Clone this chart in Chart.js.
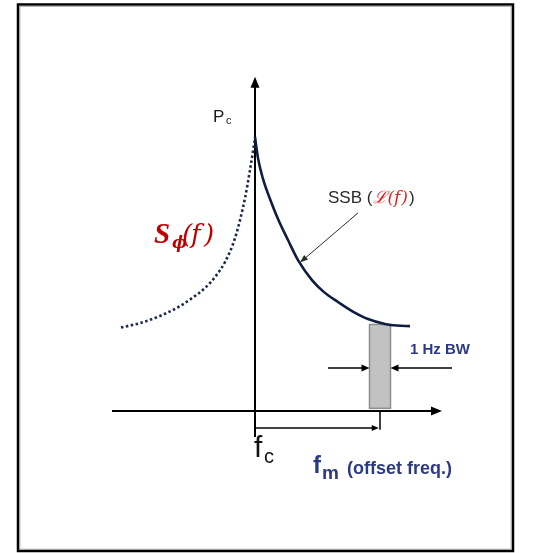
<!DOCTYPE html>
<html>
<head>
<meta charset="utf-8">
<script src="https://cdn.jsdelivr.net/npm/chart.js@4"></script>
<style>
  html, body { margin: 0; padding: 0; background: #fff; }
</style>
</head>
<body>
<canvas id="noiseChart" width="533" height="553"></canvas>
<script>
// Offset from the carrier (carrier at 0) and relative power, arbitrary units
const ssbOffset = [0, 0.24, 0.64, 1.2, 1.84, 2.64, 3.44, 4.56, 5.52, 6.64, 7.76, 9.04, 10.4, 11.36, 12.4];
const ssbPower  = [10.0, 9.23, 8.47, 7.74, 7.01, 6.24, 5.51, 4.78, 4.34, 3.98, 3.65, 3.36, 3.18, 3.12, 3.10];
const phiOffset = [-10.72, -9.2, -7.6, -6.0, -4.8, -4.0, -3.2, -2.4, -1.6, -0.8, -0.4, 0];
const phiPower  = [3.05, 3.21, 3.47, 3.83, 4.20, 4.49, 4.89, 5.44, 6.31, 7.77, 8.80, 9.93];

// measurement point: offset fm, 1 Hz window, noise level there
const offsetFreq = 10;
const bandwidth = 1.68;
const powerAtOffset = 3.16;

const toPoints = (xs, ys) => xs.map((v, i) => ({ x: v, y: ys[i] }));

function arrowHead(ctx, x1, y1, x2, y2, len, half) {
    const a = Math.atan2(y2 - y1, x2 - x1);
    ctx.beginPath();
    ctx.moveTo(x2, y2);
    ctx.lineTo(x2 - len * Math.cos(a) + half * Math.sin(a), y2 - len * Math.sin(a) - half * Math.cos(a));
    ctx.lineTo(x2 - len * Math.cos(a) - half * Math.sin(a), y2 - len * Math.sin(a) + half * Math.cos(a));
    ctx.closePath();
    ctx.fill();
}

function arrow(ctx, x1, y1, x2, y2, width, len, half, color) {
    ctx.strokeStyle = color;
    ctx.fillStyle = color;
    ctx.lineWidth = width;
    const a = Math.atan2(y2 - y1, x2 - x1);
    ctx.beginPath();
    ctx.moveTo(x1, y1);
    ctx.lineTo(x2 - (len - 1) * Math.cos(a), y2 - (len - 1) * Math.sin(a));
    ctx.stroke();
    arrowHead(ctx, x1, y1, x2, y2, len, half);
}

function line(ctx, x1, y1, x2, y2, width, color) {
    ctx.strokeStyle = color;
    ctx.lineWidth = width;
    ctx.beginPath();
    ctx.moveTo(x1, y1);
    ctx.lineTo(x2, y2);
    ctx.stroke();
}

function text(ctx, str, x, y, font, color) {
    ctx.font = font;
    ctx.fillStyle = color;
    ctx.fillText(str, x, y);
    return x + ctx.measureText(str).width;
}

// Axes, measurement window, arrows and labels
const sketch = {
    id: 'sketch',
    beforeDatasetsDraw(chart) {
        const { ctx, scales: { x, y } } = chart;
        const px = v => x.getPixelForValue(v);
        const py = v => y.getPixelForValue(v);
        ctx.save();

        // 1 Hz window at fm
        const l = px(offsetFreq - bandwidth / 2), r = px(offsetFreq + bandwidth / 2);
        const t = py(powerAtOffset), b = py(0.1);
        ctx.fillStyle = '#c2c2c2';
        ctx.fillRect(l, t, r - l, b - t);
        ctx.strokeStyle = '#8e8e8e';
        ctx.lineWidth = 1.5;
        ctx.strokeRect(l, t, r - l, b - t);

        // frequency and power axes
        arrow(ctx, px(-11.44), py(0), px(14.96), py(0), 2, 11, 4.5, '#000');
        arrow(ctx, px(0), py(-0.95), px(0), py(12.2), 2, 11, 4.5, '#000');

        // offset bracket from fc to fm
        arrow(ctx, px(0), py(-0.62), px(offsetFreq - 0.1), py(-0.62), 1.5, 7, 3, '#000');
        line(ctx, px(offsetFreq), py(0), px(offsetFreq), py(-0.68), 1.5, '#000');

        // bandwidth pointers
        const by = py(1.57);
        arrow(ctx, px(5.84), by, l, by, 1.5, 8, 3.5, '#000');
        arrow(ctx, px(15.76), by, r, by, 1.5, 8, 3.5, '#000');

        // SSB pointer onto the curve
        arrow(ctx, px(8.24), py(7.23), px(3.6), py(5.42), 1, 8, 3, '#2a2a2a');
        ctx.restore();
    },
    afterDraw(chart) {
        const { ctx } = chart;
        ctx.save();
        ctx.textBaseline = 'alphabetic';

        // Pc
        text(ctx, 'P', 213, 122, '17px Arial, "Liberation Sans", sans-serif', '#1a1a1a');
        text(ctx, 'c', 226, 124, '11px Arial, "Liberation Sans", sans-serif', '#1a1a1a');

        // SSB (L(f))
        let cx = text(ctx, 'SSB (', 328, 203, '17px Arial, "Liberation Sans", sans-serif', '#2a2a2a');
        cx = text(ctx, '\u2112(', cx + 1, 203, 'italic 17px "DejaVu Serif", serif', '#e02020');
        cx = text(ctx, 'f', cx, 203, 'italic 17px "DejaVu Serif", serif', '#e02020');
        cx = text(ctx, ')', cx + 1, 203, 'italic 17px "DejaVu Serif", serif', '#e02020');
        text(ctx, ')', cx + 1, 203, '17px Arial, "Liberation Sans", sans-serif', '#2a2a2a');

        // S_phi(f)
        text(ctx, 'S', 154, 243, 'bold italic 29px "Liberation Serif", serif', '#c00000');
        text(ctx, '\u03d5', 172, 248, 'bold italic 16px "DejaVu Serif", serif', '#c00000');
        text(ctx, '(', 182, 243, 'italic 26px "DejaVu Serif", serif', '#c00000');
        text(ctx, 'f', 191, 243, 'italic 26px "DejaVu Serif", serif', '#c00000');
        text(ctx, ')', 204, 243, 'italic 26px "DejaVu Serif", serif', '#c00000');

        // 1 Hz BW
        text(ctx, '1 Hz BW', 410, 354, 'bold 15px Arial, "Liberation Sans", sans-serif', '#2b3a82');

        // fc
        text(ctx, 'f', 254, 457, '30px Arial, "Liberation Sans", sans-serif', '#111');
        text(ctx, 'c', 264, 463, '20px Arial, "Liberation Sans", sans-serif', '#111');

        // fm (offset freq.)
        text(ctx, 'f', 313, 473, 'bold 24px Arial, "Liberation Sans", sans-serif', '#2b3a82');
        text(ctx, 'm', 322, 479, 'bold 19px Arial, "Liberation Sans", sans-serif', '#2b3a82');
        text(ctx, '(offset freq.)', 347, 474, 'bold 18px Arial, "Liberation Sans", sans-serif', '#2b3a82');

        // frame
        ctx.strokeStyle = '#000';
        ctx.lineWidth = 2.5;
        ctx.strokeRect(18, 4.5, 495, 546.5);
        ctx.strokeStyle = '#9a9a9a';
        ctx.lineWidth = 1;
        ctx.strokeRect(19.75, 6.25, 491.5, 543);
        ctx.restore();
    }
};

const ctx = document.getElementById('noiseChart').getContext('2d');
new Chart(ctx, {
    type: 'line',
    data: {
        datasets: [{
            label: 'SSB',
            data: toPoints(ssbOffset, ssbPower),
            borderColor: '#0f1d40',
            borderWidth: 2.6,
            pointRadius: 0,
            cubicInterpolationMode: 'monotone',
            fill: false,
            clip: false
        }, {
            label: 'S phi',
            data: toPoints(phiOffset, phiPower),
            borderColor: '#1c2a4a',
            borderWidth: 2.6,
            borderDash: [2.5, 2.5],
            pointRadius: 0,
            cubicInterpolationMode: 'monotone',
            fill: false,
            clip: false
        }]
    },
    options: {
        responsive: false,
        animation: false,
        events: [],
        layout: { padding: 0 },
        plugins: { legend: { display: false }, tooltip: { enabled: false } },
        scales: {
            x: { type: 'linear', display: false, min: -20.4, max: 22.24 },
            y: { type: 'linear', display: false, min: -5.18, max: 15 }
        }
    },
    plugins: [sketch]
});
</script>
</body>
</html>
